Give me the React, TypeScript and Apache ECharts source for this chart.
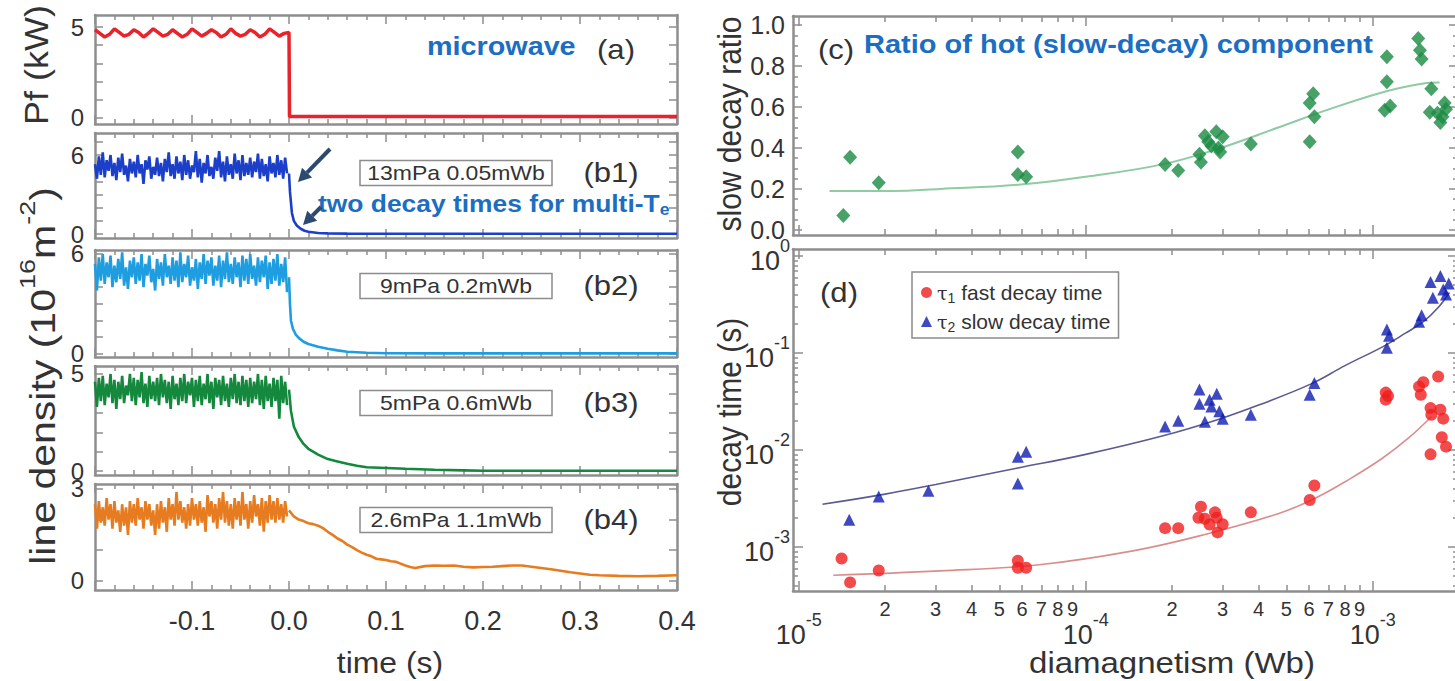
import React, { useEffect, useRef } from "react";
import * as echarts from "echarts";

const FONT = '"Liberation Sans", Arial, Helvetica, sans-serif';
const INK = "#333333";
const FRAME = "#8e8e8e";
const NOTE_BLUE = "#1b6ec2";
const ARROW_NAVY = "#2c4a70";

// ---------- left column: traces around the microwave turn-off (t = 0) ----------
const TIME_MIN = -0.2;
const TIME_MAX = 0.4;
const PF_DT = 0.005;
const NOISE_DT = 0.002;

// forward power (kW) while the microwave is on
const pfOn = [
  4.85, 4.65, 4.45, 4.6, 4.9, 4.7, 4.5, 4.6, 4.85, 4.7,
  4.45, 4.65, 4.9, 4.7, 4.5, 4.6, 4.85, 4.65, 4.45, 4.6,
  4.9, 4.7, 4.5, 4.65, 4.85, 4.7, 4.45, 4.6, 4.9, 4.65,
  4.5, 4.6, 4.85, 4.7, 4.45, 4.6, 4.9, 4.7, 4.5, 4.65,
];
const pfOff = [[0, 4.7], [0.0005, 0.08], [0.4, 0.08]];

// line density (10^16 m^-2) before turn-off
const n1On = [
  5.3, 4.2, 5.9, 4.5, 6.2, 4.3, 5.6, 4.8, 6.0, 4.4,
  5.4, 4.1, 5.8, 4.7, 6.1, 4.5, 5.2, 4.0, 5.7, 4.6,
  5.5, 4.3, 6.0, 4.6, 5.3, 3.8, 5.6, 4.9, 5.9, 4.2,
  5.1, 4.5, 5.8, 4.4, 5.4, 4.0, 5.7, 4.7, 6.2, 4.4,
  5.3, 4.2, 5.9, 4.6, 5.5, 4.1, 6.0, 4.5, 5.6, 4.2,
  5.2, 4.7, 6.3, 4.3, 5.7, 3.9, 5.4, 4.6, 6.0, 4.4,
  5.1, 4.2, 5.8, 4.8, 6.3, 4.3, 5.5, 4.0, 5.9, 4.5,
  5.3, 4.2, 6.1, 4.6, 5.6, 4.1, 6.0, 4.4, 5.4, 4.5,
  5.8, 4.3, 5.5, 4.7, 6.1, 4.2, 5.7, 4.4, 5.3, 4.0,
  5.9, 4.6, 5.4, 4.3, 6.0, 4.5, 5.6, 4.2, 5.8, 4.6,
];
const n2On = [
  5.4, 3.8, 5.8, 4.4, 6.0, 4.2, 5.5, 4.6, 5.9, 4.0,
  5.3, 4.3, 5.7, 4.5, 6.1, 4.1, 5.2, 3.9, 5.6, 4.6,
  5.8, 4.2, 5.5, 4.4, 6.0, 4.0, 5.4, 4.7, 5.9, 4.3,
  5.1, 3.8, 5.7, 4.5, 5.5, 4.1, 6.0, 4.6, 5.3, 4.2,
  5.8, 4.4, 5.6, 4.0, 6.1, 4.3, 5.4, 4.6, 5.9, 4.1,
  5.2, 4.4, 5.7, 3.9, 5.5, 4.5, 6.0, 4.2, 5.6, 4.7,
  5.8, 4.1, 5.3, 4.4, 5.9, 4.0, 5.6, 4.5, 6.1, 4.3,
  5.4, 4.2, 5.8, 4.6, 5.5, 4.0, 5.9, 4.4, 5.7, 4.2,
  6.0, 4.5, 5.3, 4.1, 5.8, 4.3, 5.6, 4.6, 5.9, 3.9,
  5.5, 4.2, 5.7, 4.4, 6.0, 4.1, 5.4, 4.3, 5.8, 3.7,
];
const n3On = [
  4.6, 3.3, 4.8, 3.6, 4.9, 3.4, 4.5, 3.8, 5.0, 3.5,
  4.7, 3.2, 4.6, 3.7, 4.9, 3.5, 4.4, 3.9, 5.0, 3.6,
  4.8, 3.4, 4.7, 3.8, 5.1, 3.5, 4.5, 3.3, 4.9, 3.7,
  4.6, 3.6, 4.8, 3.4, 5.0, 3.8, 4.7, 3.5, 4.6, 3.2,
  4.9, 3.7, 4.5, 3.4, 4.8, 3.6, 5.0, 3.5, 4.6, 3.9,
  4.8, 3.3, 4.7, 3.6, 4.9, 3.4, 4.5, 3.7, 5.0, 3.5,
  4.6, 3.2, 4.8, 3.8, 4.7, 3.4, 4.9, 3.6, 4.5, 3.3,
  4.8, 3.7, 5.0, 3.5, 4.6, 3.4, 4.9, 3.6, 4.7, 3.3,
  4.8, 3.5, 4.6, 3.7, 5.0, 3.4, 4.7, 3.2, 4.9, 3.6,
  4.5, 3.3, 4.8, 3.6, 4.7, 2.7, 4.9, 3.5, 4.6, 3.4,
];
const n4On = [
  2.5, 1.7, 2.6, 1.9, 2.4, 1.8, 2.7, 2.0, 2.5, 1.7,
  2.6, 1.9, 2.3, 1.6, 2.5, 1.8, 2.4, 1.5, 2.6, 1.9,
  2.5, 1.8, 2.7, 2.0, 2.4, 1.7, 2.6, 2.0, 2.5, 1.8,
  2.3, 1.5, 2.5, 1.7, 2.6, 1.9, 2.4, 1.6, 2.7, 2.0,
  2.5, 1.8, 2.9, 2.0, 2.6, 1.9, 2.4, 1.7, 2.5, 1.8,
  2.7, 2.0, 2.5, 1.8, 2.6, 1.9, 2.4, 1.6, 2.8, 2.1,
  2.6, 1.9, 2.5, 1.7, 2.7, 2.0, 2.9, 1.9, 2.6, 1.8,
  2.5, 1.7, 2.7, 2.0, 2.6, 1.8, 2.9, 2.0, 2.5, 1.7,
  2.6, 1.9, 2.8, 2.1, 2.5, 1.8, 2.7, 1.6, 2.6, 1.9,
  2.8, 2.0, 2.6, 1.9, 2.7, 2.0, 2.5, 1.9, 2.6, 2.1,
];

// decays after turn-off: [t (s), density]
const n1Decay = [
  [0, 4.6], [0.001, 3.2], [0.003, 1.6], [0.005, 1.0], [0.008, 0.65], [0.012, 0.4],
  [0.016, 0.25], [0.02, 0.17], [0.03, 0.08], [0.04, 0.05], [0.06, 0.03], [0.1, 0.02],
  [0.2, 0.02], [0.3, 0.02], [0.4, 0.02],
];
const n2Decay = [
  [0, 4.6], [0.001, 3.0], [0.002, 2.0], [0.004, 1.5], [0.007, 1.15], [0.01, 0.95],
  [0.015, 0.72], [0.02, 0.58], [0.03, 0.42], [0.04, 0.3], [0.05, 0.2], [0.06, 0.12],
  [0.08, 0.06], [0.1, 0.03], [0.15, 0.02], [0.4, 0.02],
];
const n3Decay = [
  [0, 4.2], [0.002, 3.1], [0.005, 2.3], [0.01, 1.75], [0.015, 1.4], [0.02, 1.15],
  [0.03, 0.85], [0.04, 0.62], [0.05, 0.5], [0.06, 0.38], [0.07, 0.28], [0.08, 0.2],
  [0.1, 0.16], [0.12, 0.12], [0.15, 0.07], [0.18, 0.04], [0.2, 0.02], [0.3, 0.02], [0.4, 0.02],
];
const n4Decay = [
  [0, 2.3], [0.005, 2.1], [0.01, 2.0], [0.015, 1.95], [0.02, 1.88], [0.025, 1.85],
  [0.03, 1.8], [0.035, 1.72], [0.04, 1.6], [0.045, 1.5], [0.05, 1.38], [0.055, 1.3],
  [0.06, 1.18], [0.065, 1.1], [0.07, 1.0], [0.075, 0.92], [0.08, 0.85], [0.085, 0.8],
  [0.09, 0.72], [0.095, 0.7], [0.1, 0.68], [0.105, 0.64], [0.11, 0.62], [0.115, 0.56],
  [0.12, 0.5], [0.125, 0.45], [0.13, 0.42], [0.14, 0.48], [0.15, 0.5], [0.16, 0.49],
  [0.17, 0.5], [0.18, 0.46], [0.19, 0.44], [0.2, 0.45], [0.21, 0.46], [0.22, 0.48],
  [0.23, 0.5], [0.24, 0.5], [0.25, 0.46], [0.26, 0.42], [0.27, 0.38], [0.28, 0.33],
  [0.29, 0.28], [0.3, 0.24], [0.31, 0.2], [0.32, 0.18], [0.34, 0.16], [0.36, 0.15],
  [0.38, 0.16], [0.4, 0.18],
];

const pfTicks = [0, 1, 2, 3, 4, 5];
const pfTickLabels = [0, 5];
const n1Ticks = [0, 1, 2, 3, 4, 5, 6, 7];
const n1TickLabels = [0, 6];
const n2Ticks = [0, 1, 2, 3, 4, 5, 6];
const n2TickLabels = [0, 6];
const n3Ticks = [0, 1, 2, 3, 4, 5];
const n3TickLabels = [0, 5];
const n4Ticks = [0, 1, 2, 3];
const n4TickLabels = [0, 3];

// ---------- right column: diamagnetism scans ----------
// slow-decay (hot component) ratio vs diamagnetism (Wb)
const ratioPoints = [
  [1.43e-5, 0.07], [1.51e-5, 0.355], [1.9e-5, 0.23], [5.8e-5, 0.38], [5.8e-5, 0.27],
  [6.2e-5, 0.26], [1.89e-4, 0.32], [2.1e-4, 0.29], [2.49e-4, 0.37], [2.52e-4, 0.33],
  [2.6e-4, 0.46], [2.67e-4, 0.43], [2.74e-4, 0.41], [2.85e-4, 0.48], [2.94e-4, 0.38],
  [3.0e-4, 0.455], [2.9e-4, 0.4], [3.76e-4, 0.42], [6.03e-4, 0.62], [6.2e-4, 0.665],
  [6.26e-4, 0.553], [6.03e-4, 0.43], [1.12e-3, 0.846], [1.12e-3, 0.724], [1.1e-3, 0.585],
  [1.15e-3, 0.605], [1.44e-3, 0.935], [1.46e-3, 0.878], [1.48e-3, 0.835], [1.6e-3, 0.69],
  [1.58e-3, 0.575], [1.68e-3, 0.57], [1.78e-3, 0.62], [1.75e-3, 0.553], [1.8e-3, 0.59],
  [1.72e-3, 0.525],
];
const ratioFit = [
  [1.28e-5, 0.19], [2.12e-5, 0.19], [3.12e-5, 0.2], [5.8e-5, 0.22], [1e-4, 0.26],
  [1.85e-4, 0.32], [2.95e-4, 0.4], [4.68e-4, 0.5], [6.9e-4, 0.585], [1.1e-3, 0.675],
  [1.5e-3, 0.715], [1.71e-3, 0.72],
];

// decay times (s) vs diamagnetism (Wb)
const tau1Points = [
  [1.41e-5, 7.6e-4], [1.51e-5, 4.3e-4], [1.9e-5, 5.7e-4], [5.8e-5, 7.2e-4], [5.8e-5, 6.1e-4],
  [6.2e-5, 6.1e-4], [1.89e-4, 1.56e-3], [2.1e-4, 1.56e-3], [2.47e-4, 2.0e-3], [2.52e-4, 2.6e-3],
  [2.6e-4, 1.95e-3], [2.7e-4, 1.7e-3], [2.82e-4, 2.27e-3], [2.86e-4, 2.0e-3], [2.88e-4, 1.41e-3],
  [3.0e-4, 1.71e-3], [3.76e-4, 2.27e-3], [6.03e-4, 3.04e-3], [6.26e-4, 4.3e-3], [1.11e-3, 3.9e-2],
  [1.11e-3, 3.3e-2], [1.13e-3, 3.6e-2], [1.45e-3, 4.5e-2], [1.47e-3, 3.7e-2], [1.5e-3, 5.0e-2],
  [1.69e-3, 5.7e-2], [1.59e-3, 2.7e-2], [1.6e-3, 2.3e-2], [1.72e-3, 2.6e-2], [1.76e-3, 2.1e-2],
  [1.59e-3, 9.0e-3], [1.74e-3, 1.35e-2], [1.8e-3, 1.08e-2],
];
const tau2Points = [
  [1.5e-5, 1.9e-3], [1.9e-5, 3.3e-3], [2.83e-5, 3.8e-3], [5.8e-5, 4.5e-3], [5.8e-5, 8.5e-3],
  [6.2e-5, 9.6e-3], [1.89e-4, 1.74e-2], [2.1e-4, 2.0e-2], [2.49e-4, 4.2e-2], [2.49e-4, 3.0e-2],
  [2.6e-4, 1.95e-2], [2.7e-4, 3.3e-2], [2.74e-4, 2.8e-2], [2.86e-4, 3.8e-2], [2.92e-4, 2.5e-2],
  [3.0e-4, 2.1e-2], [3.76e-4, 2.3e-2], [6.03e-4, 3.7e-2], [6.26e-4, 4.9e-2], [1.12e-3, 0.113],
  [1.12e-3, 0.174], [1.14e-3, 0.15], [1.45e-3, 0.21], [1.48e-3, 0.245], [1.59e-3, 0.54],
  [1.62e-3, 0.37], [1.72e-3, 0.62], [1.76e-3, 0.45], [1.8e-3, 0.4], [1.84e-3, 0.52],
];
const tau1Fit = [
  [1.32e-5, 5.1e-4], [3.1e-5, 5.65e-4], [6.75e-5, 6.5e-4], [1.46e-4, 9.1e-4], [2.62e-4, 1.35e-3],
  [4.68e-4, 2.2e-3], [6.2e-4, 3.1e-3], [8.3e-4, 5.0e-3], [1.08e-3, 8.2e-3], [1.33e-3, 1.32e-2],
  [1.6e-3, 2.2e-2],
];
const tau2Fit = [
  [1.21e-5, 2.75e-3], [2e-5, 3.5e-3], [3e-5, 4.4e-3], [5.8e-5, 6.5e-3], [1e-4, 9.0e-3],
  [1.86e-4, 1.4e-2], [2.95e-4, 2.1e-2], [4e-4, 2.9e-2], [6.1e-4, 4.8e-2], [8e-4, 7.4e-2],
  [1.09e-3, 0.117], [1.3e-3, 0.16], [1.5e-3, 0.21], [1.7e-3, 0.3], [1.85e-3, 0.42],
];

const ratioTicks = [0, 0.2, 0.4, 0.6, 0.8, 1.0];
const ratioMinorTicks = [0.05, 0.1, 0.15, 0.25, 0.3, 0.35, 0.45, 0.5, 0.55, 0.65, 0.7, 0.75, 0.85, 0.9, 0.95];
const decadeTicks = [-5, -4, -3];
const timeDecadeTicks = [-3, -2, -1, 0];
const mantissas = [2, 3, 4, 5, 6, 7, 8, 9];

// axis extents (log axes given as exponents)
const LOG_X: [number, number] = [-5.02, -2.703];
const LOG_TAU: [number, number] = [-3.455, 0.072];
const RATIO_Y: [number, number] = [-0.025, 1.045];

const leftPanels = [
  { top: 15, height: 109, min: -0.33, max: 5.66, ticks: pfTicks, labels: pfTickLabels },
  { top: 133, height: 105, min: -0.3, max: 7.67, ticks: n1Ticks, labels: n1TickLabels },
  { top: 250, height: 107, min: -0.2, max: 6.24, ticks: n2Ticks, labels: n2TickLabels },
  { top: 366, height: 109, min: -0.2, max: 5.41, ticks: n3Ticks, labels: n3TickLabels },
  { top: 484, height: 106, min: -0.3, max: 3.16, ticks: n4Ticks, labels: n4TickLabels },
];

const boxNotes = [
  { text: "13mPa 0.05mWb", tag: "(b1)", cy: 173 },
  { text: "9mPa 0.2mWb", tag: "(b2)", cy: 286 },
  { text: "5mPa 0.6mWb", tag: "(b3)", cy: 403 },
  { text: "2.6mPa 1.1mWb", tag: "(b4)", cy: 520 },
];

const lineStyleFrame = { color: FRAME, width: 2.5 };
const tickLine = { color: FRAME, width: 1.5 };

function onTrace(values: number[], dt: number) {
  return values.map((v, i) => [TIME_MIN + i * dt, v]);
}

function minorLogTicks(range: [number, number]) {
  const out: number[] = [];
  for (let n = Math.floor(range[0]) - 1; n <= Math.ceil(range[1]); n++) {
    for (const m of mantissas) {
      const v = n + Math.log10(m);
      if (v > range[0] && v < range[1]) out.push(v);
    }
  }
  return out;
}

function timeAxis(grid: number, position: string, labels: boolean) {
  return {
    type: "value", gridIndex: grid, position, min: TIME_MIN, max: TIME_MAX, interval: 0.1,
    axisLine: { show: true, onZero: false, lineStyle: lineStyleFrame },
    axisTick: { show: true, inside: true, length: 9, lineStyle: tickLine },
    minorTick: { show: true, splitNumber: 5, length: 5, lineStyle: tickLine },
    splitLine: { show: false }, minorSplitLine: { show: false },
    axisLabel: labels
      ? {
          show: true, margin: 17, fontSize: 27, fontFamily: FONT, color: INK,
          showMinLabel: true, showMaxLabel: true,
          formatter: (v: number) => (Math.abs(v - TIME_MIN) < 1e-6 ? "" : v.toFixed(1)),
        }
      : { show: false },
  };
}

function densityAxis(grid: number, position: string, p: any, labels: boolean) {
  return {
    type: "value", gridIndex: grid, position, min: p.min, max: p.max,
    axisLine: { show: true, onZero: false, lineStyle: lineStyleFrame },
    axisTick: { show: true, inside: true, length: 8, lineStyle: tickLine, customValues: p.ticks },
    splitLine: { show: false },
    axisLabel: labels
      ? { show: true, customValues: p.labels, margin: 11, fontSize: 24, lineHeight: 15, fontFamily: FONT, color: INK }
      : { show: false },
  };
}

function decoAxis(grid: number, position: string, range: [number, number], ticks: number[], len: number, frame: boolean, label?: any) {
  return {
    type: "value", gridIndex: grid, position, min: range[0], max: range[1],
    axisLine: { show: frame, onZero: false, lineStyle: lineStyleFrame },
    axisTick: { show: true, inside: true, length: len, lineStyle: tickLine, customValues: ticks },
    splitLine: { show: false },
    axisLabel: label ? { show: true, customValues: ticks, ...label } : { show: false },
  };
}

const powerRich = {
  b: { fontSize: 27, fontFamily: FONT, color: INK, padding: [10, 0, 0, 0] },
  s: { fontSize: 18, fontFamily: FONT, color: INK, verticalAlign: "top" },
};
const powerLabel = (v: number) => `{b|10}{s|${Math.round(v)}}`;
const mantissaLabel = (v: number) => {
  const n = Math.floor(v + 1e-9);
  return String(Math.round(Math.pow(10, v - n)));
};

function arrow(tail: number[], tip: number[]) {
  const dx = tip[0] - tail[0];
  const dy = tip[1] - tail[1];
  const len = Math.hypot(dx, dy);
  const ux = dx / len, uy = dy / len;
  const head = 13, half = 7;
  const bx = tip[0] - ux * head, by = tip[1] - uy * head;
  return [
    { type: "line", z: 50, shape: { x1: tail[0], y1: tail[1], x2: bx, y2: by }, style: { stroke: ARROW_NAVY, lineWidth: 4 } },
    {
      type: "polygon", z: 50,
      shape: { points: [[tip[0], tip[1]], [bx - uy * half, by + ux * half], [bx + uy * half, by - ux * half]] },
      style: { fill: ARROW_NAVY },
    },
  ];
}

function label(x: number, y: number, t: string, o: any = {}) {
  const { rotation, scaleX, scaleY, ...style } = o;
  return {
    type: "text", x, y, rotation: rotation || 0, scaleX: scaleX || 1, scaleY: scaleY || 1, z: 50,
    style: {
      text: t, fontFamily: FONT, fontSize: 26, fill: INK,
      align: "center", verticalAlign: "middle", textAlign: "center", textVerticalAlign: "middle",
      ...style,
    },
  };
}

function buildOption() {
  const grids: any[] = leftPanels.map((p) => ({
    left: 95, width: 582, top: p.top, height: p.height, containLabel: false, outerBoundsMode: "none",
  }));
  grids.push({ left: 793, width: 665, top: 16, height: 219, containLabel: false, outerBoundsMode: "none" });
  grids.push({ left: 793, width: 665, top: 249, height: 342, containLabel: false, outerBoundsMode: "none" });

  const xAxes: any[] = [];
  const yAxes: any[] = [];
  leftPanels.forEach((_, i) => xAxes.push(timeAxis(i, "bottom", i === 4)));
  leftPanels.forEach((_, i) => xAxes.push(timeAxis(i, "top", false)));
  leftPanels.forEach((p, i) => yAxes.push(densityAxis(i, "left", p, true)));
  leftPanels.forEach((p, i) => yAxes.push(densityAxis(i, "right", p, false)));

  const hidden = { axisLine: { show: false }, axisTick: { show: false }, axisLabel: { show: false }, splitLine: { show: false } };
  const minorX = minorLogTicks(LOG_X);
  const minorTau = minorLogTicks(LOG_TAU);

  // (c) x axes: 10 data, 11-14 frame and ticks
  xAxes.push({ type: "log", logBase: 10, gridIndex: 5, min: Math.pow(10, LOG_X[0]), max: Math.pow(10, LOG_X[1]), ...hidden });
  xAxes.push(decoAxis(5, "bottom", LOG_X, decadeTicks, 10, true));
  xAxes.push(decoAxis(5, "bottom", LOG_X, minorX, 6, false));
  xAxes.push(decoAxis(5, "top", LOG_X, decadeTicks, 10, true));
  xAxes.push(decoAxis(5, "top", LOG_X, minorX, 6, false));
  // (d) x axes: 15 data, 16-19 frame, ticks and labels
  xAxes.push({ type: "log", logBase: 10, gridIndex: 6, min: Math.pow(10, LOG_X[0]), max: Math.pow(10, LOG_X[1]), ...hidden });
  xAxes.push(decoAxis(6, "bottom", LOG_X, decadeTicks, 10, true, { margin: 20, formatter: powerLabel, rich: powerRich }));
  xAxes.push(decoAxis(6, "bottom", LOG_X, minorX, 6, false, { margin: 8, formatter: mantissaLabel, fontSize: 20, fontFamily: FONT, color: INK }));
  xAxes.push(decoAxis(6, "top", LOG_X, decadeTicks, 10, true));
  xAxes.push(decoAxis(6, "top", LOG_X, minorX, 6, false));

  // (c) y axes: 10 data (labels), 11-13 ticks
  yAxes.push({
    type: "value", gridIndex: 5, position: "left", min: RATIO_Y[0], max: RATIO_Y[1],
    axisLine: { show: true, onZero: false, lineStyle: lineStyleFrame },
    axisTick: { show: true, inside: true, length: 9, lineStyle: tickLine, customValues: ratioTicks },
    splitLine: { show: false },
    axisLabel: { show: true, customValues: ratioTicks, margin: 8, fontSize: 25, fontFamily: FONT, color: INK, formatter: (v: number) => v.toFixed(1) },
  });
  yAxes.push(decoAxis(5, "left", RATIO_Y, ratioMinorTicks, 5, false));
  yAxes.push(decoAxis(5, "right", RATIO_Y, ratioTicks, 9, true));
  yAxes.push(decoAxis(5, "right", RATIO_Y, ratioMinorTicks, 5, false));
  // (d) y axes: 14 data, 15-18 frame, ticks and labels
  yAxes.push({ type: "log", logBase: 10, gridIndex: 6, min: Math.pow(10, LOG_TAU[0]), max: Math.pow(10, LOG_TAU[1]), ...hidden });
  yAxes.push(decoAxis(6, "left", LOG_TAU, timeDecadeTicks, 10, true, { margin: 3, formatter: powerLabel, rich: powerRich }));
  yAxes.push(decoAxis(6, "left", LOG_TAU, minorTau, 5, false));
  yAxes.push(decoAxis(6, "right", LOG_TAU, timeDecadeTicks, 10, true));
  yAxes.push(decoAxis(6, "right", LOG_TAU, minorTau, 5, false));

  const trace = (i: number, data: any[], color: string, width: number) => ({
    type: "line", xAxisIndex: i, yAxisIndex: i, data, symbol: "none", silent: true, z: 3,
    lineStyle: { color, width }, clip: true,
  });

  const series: any[] = [
    trace(0, [...onTrace(pfOn, PF_DT), ...pfOff], "#e8232b", 3.5),
    trace(1, onTrace(n1On, NOISE_DT), "#1c3fc9", 2.6),
    trace(1, n1Decay, "#1c3fc9", 2.6),
    trace(2, onTrace(n2On, NOISE_DT), "#1e9de0", 2.6),
    trace(2, n2Decay, "#1e9de0", 2.6),
    trace(3, onTrace(n3On, NOISE_DT), "#14883c", 2.6),
    trace(3, n3Decay, "#14883c", 2.6),
    trace(4, onTrace(n4On, NOISE_DT), "#e67c1f", 2.6),
    trace(4, n4Decay, "#e67c1f", 2.6),
    {
      type: "line", name: "ratio fit", xAxisIndex: 10, yAxisIndex: 10, data: ratioFit, smooth: 0.4,
      symbol: "none", lineStyle: { color: "#8fcba3", width: 2 }, z: 2, silent: true,
    },
    {
      type: "scatter", name: "slow decay ratio", xAxisIndex: 10, yAxisIndex: 10, data: ratioPoints,
      symbol: "diamond", symbolSize: [14, 15], itemStyle: { color: "#1a8b42" }, z: 4,
    },
    {
      type: "line", name: "tau2 fit", xAxisIndex: 15, yAxisIndex: 14, data: tau2Fit, smooth: 0.4,
      symbol: "none", lineStyle: { color: "#5a5a92", width: 1.6 }, z: 2, silent: true,
    },
    {
      type: "line", name: "tau1 fit", xAxisIndex: 15, yAxisIndex: 14, data: tau1Fit, smooth: 0.4,
      symbol: "none", lineStyle: { color: "#d98e8e", width: 1.6 }, z: 2, silent: true,
    },
    {
      type: "scatter", name: "τ1 fast decay time", xAxisIndex: 15, yAxisIndex: 14, data: tau1Points,
      symbol: "circle", symbolSize: 12, itemStyle: { color: "#f01e1e" }, z: 4,
    },
    {
      type: "scatter", name: "τ2 slow decay time", xAxisIndex: 15, yAxisIndex: 14, data: tau2Points,
      symbol: "triangle", symbolSize: 12, itemStyle: { color: "#0f1db0" }, z: 4,
    },
  ];

  const graphics: any[] = [
    // axis titles
    label(37, 65, "Pf (kW)", { rotation: Math.PI / 2, fontSize: 36, scaleY: 0.92 }),
    label(38, 376, "{a|line density (10}{s|16}{a|m}{s|-2}{a|)}", {
      rotation: Math.PI / 2, scaleY: 0.84,
      rich: {
        a: { fontSize: 41, fontFamily: FONT, fill: INK, color: INK, padding: [12, 0, 0, 0] },
        s: { fontSize: 27, fontFamily: FONT, fill: INK, color: INK, verticalAlign: "top" },
      },
    }),
    label(390, 663, "time (s)", { fontSize: 29, scaleX: 1.1 }),
    label(729, 124, "slow decay ratio", { rotation: Math.PI / 2, fontSize: 30, scaleY: 1.12 }),
    label(729, 412, "decay time (s)", { rotation: Math.PI / 2, fontSize: 30, scaleY: 1.12 }),
    label(1172, 663, "diamagnetism (Wb)", { fontSize: 30, scaleX: 1.1 }),
    // panel tags
    label(616, 50, "(a)", { fontSize: 27, scaleX: 1.15 }),
    label(836, 50, "(c)", { fontSize: 27, scaleX: 1.15 }),
    label(839, 293, "(d)", { fontSize: 27, scaleX: 1.15 }),
    // blue notes
    label(427, 47, "microwave", { fontSize: 25, fontWeight: "bold", fill: NOTE_BLUE, scaleX: 1.15, align: "left", textAlign: "left" }),
    label(864, 44, "Ratio of hot (slow-decay) component", {
      fontSize: 25, fontWeight: "bold", fill: NOTE_BLUE, scaleX: 1.16, align: "left", textAlign: "left",
    }),
    label(318, 203, "{m|two decay times for multi-T}{e|e}", {
      align: "left", textAlign: "left", scaleX: 1.1,
      rich: {
        m: { fontSize: 24, fontWeight: "bold", fontFamily: FONT, fill: NOTE_BLUE, color: NOTE_BLUE },
        e: { fontSize: 16, fontWeight: "bold", fontFamily: FONT, fill: NOTE_BLUE, color: NOTE_BLUE, padding: [14, 0, 0, 0] },
      },
    }),
    ...arrow([330, 149], [298, 182]),
    ...arrow([321, 207], [303, 225]),
  ];
  boxNotes.forEach((b) => {
    graphics.push({
      type: "rect", z: 40, shape: { x: 360, y: b.cy - 12.5, width: 192, height: 25 },
      style: { fill: "#ffffff", stroke: "#8c8c8c", lineWidth: 1.5 },
    });
    graphics.push(label(456, b.cy, b.text, { fontSize: 20, scaleX: 1.15 }));
    graphics.push(label(611, b.cy, b.tag, { fontSize: 27, scaleX: 1.15 }));
  });

  return {
    animation: false,
    backgroundColor: "#ffffff",
    grid: grids,
    xAxis: xAxes,
    yAxis: yAxes,
    series,
    legend: {
      show: true, orient: "vertical", left: 912, top: 272,
      data: [
        { name: "τ1 fast decay time", icon: "circle" },
        { name: "τ2 slow decay time", icon: "triangle" },
      ],
      itemWidth: 11, itemHeight: 11, itemGap: 6,
      padding: [10, 8, 4, 9],
      borderColor: "#8a8a8a", borderWidth: 1.5, backgroundColor: "#ffffff",
      selectedMode: false,
      formatter: (name: string) =>
        name.startsWith("τ1") ? "{g|τ}{sub|1}{t| fast decay time}" : "{g|τ}{sub|2}{t| slow decay time}",
      textStyle: {
        fontFamily: FONT, fontSize: 21, color: INK,
        rich: {
          g: { fontFamily: '"DejaVu Serif", serif', fontSize: 19, color: INK },
          sub: { fontFamily: FONT, fontSize: 14, color: INK, padding: [11, 0, 0, 0] },
          t: { fontFamily: FONT, fontSize: 21, color: INK },
        },
      },
    },
    graphic: { elements: graphics },
  };
}

export default function App() {
  const ref = useRef<HTMLDivElement>(null);
  useEffect(() => {
    if (!ref.current) return;
    const chart = echarts.init(ref.current, undefined, { renderer: "svg" });
    chart.setOption(buildOption() as any);
    return () => chart.dispose();
  }, []);
  return (
    <div
      ref={ref}
      style={{ position: "fixed", left: 0, top: 0, width: 1455, height: 681, background: "#ffffff" }}
    />
  );
}
